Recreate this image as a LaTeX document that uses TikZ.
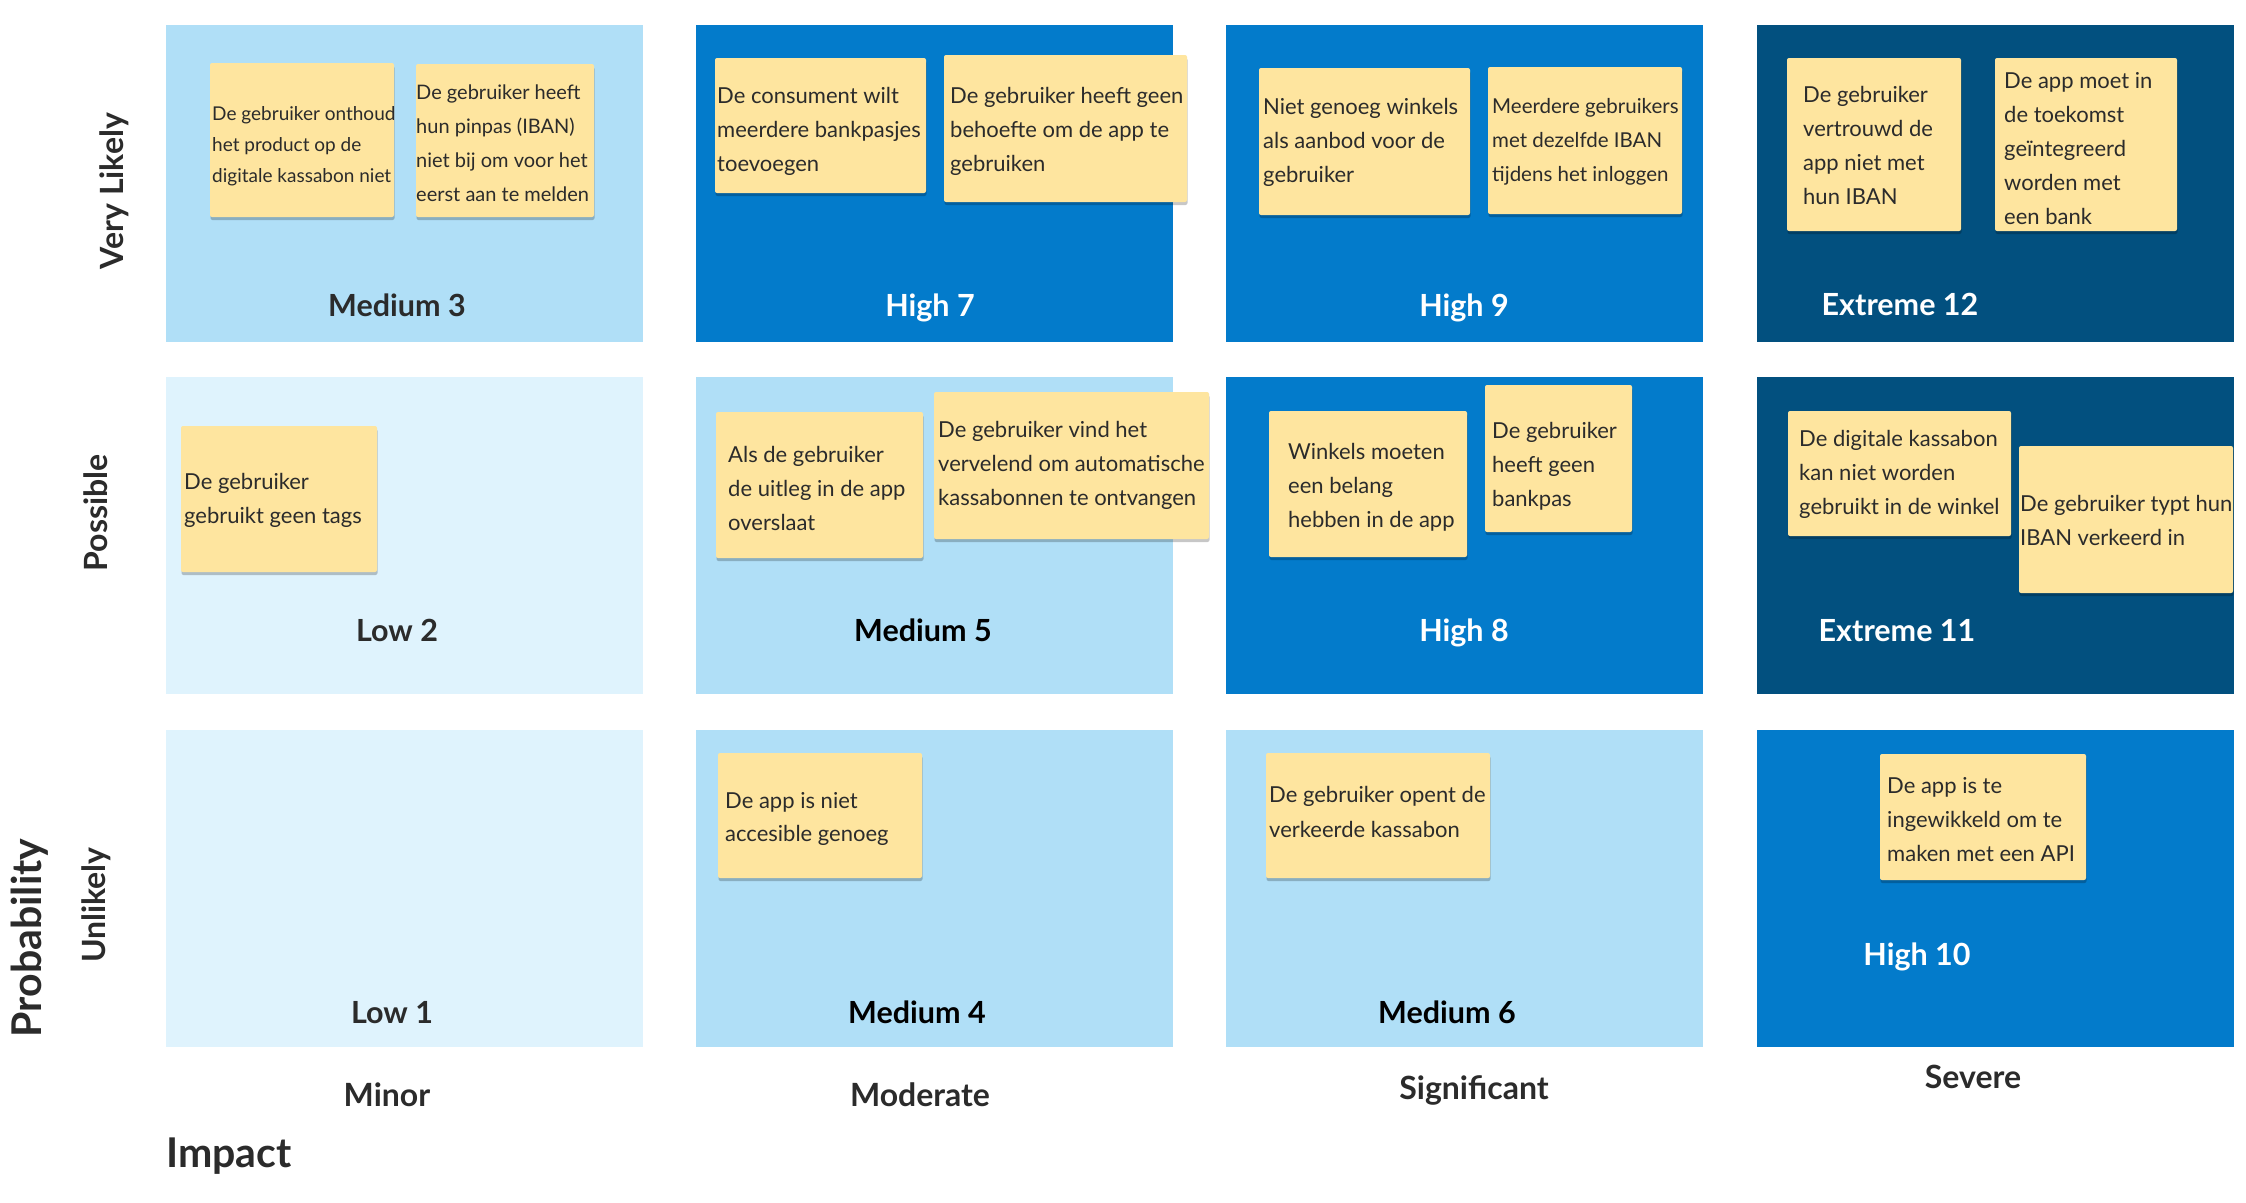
\documentclass[tikz,border=0pt]{standalone}
\usepackage{fontspec}
\setmainfont{Lato}
\usetikzlibrary{shadows}
\definecolor{cLow}{HTML}{DFF3FD}
\definecolor{cMed}{HTML}{B0DFF7}
\definecolor{cHigh}{HTML}{037BCB}
\definecolor{cExt}{HTML}{02507F}
\definecolor{cNote}{HTML}{FEE59F}
\definecolor{cInk}{HTML}{2B2B2B}
\tikzset{
  cell/.style={rectangle, minimum width=477pt, minimum height=317pt, inner sep=0pt, anchor=north west},
  notebox/.style={rectangle, fill=cNote, rounded corners=2pt, inner sep=0pt,
     general shadow={fill=black, opacity=0.22, shadow yshift=-3pt, shadow xshift=0.5pt}},
  notetext/.style={anchor=base west, inner sep=0pt, text=cInk, font=\fontsize{22}{34}\selectfont},
  lbl/.style={anchor=base, inner sep=0pt, font=\bfseries\fontsize{30.5}{34}\selectfont},
  darklbl/.style={lbl, text=cInk},
  lightlbl/.style={lbl, text=white},
  axislbl/.style={anchor=base, inner sep=0pt, text=cInk, font=\bfseries\fontsize{32}{36}\selectfont},
  sidelbl/.style={rotate=90, inner sep=0pt, text=cInk, font=\bfseries\fontsize{32}{36}\selectfont},
}
\newcommand{\stickynote}[9]{%
  \node[notebox, minimum width={#4pt-#2pt}, minimum height={#5pt-#3pt}] (#1) at ({(#2+#4)/2},{(#3+#5)/2}) {};
  \node[notetext, #8] (#1t) at (#6,#7) {\begin{tabular}[t]{@{}l@{}}#9\end{tabular}};
}
\begin{document}
\begin{tikzpicture}[x=1pt,y=-1pt]
\useasboundingbox[fill=white] (0,0) rectangle (2246,1202);
% cells
\node[cell, fill=cMed]  (c31) at (166,25) {};
\node[cell, fill=cHigh] (c32) at (696,25) {};
\node[cell, fill=cHigh] (c33) at (1226,25) {};
\node[cell, fill=cExt]  (c34) at (1757,25) {};
\node[cell, fill=cLow]  (c21) at (166,377) {};
\node[cell, fill=cMed]  (c22) at (696,377) {};
\node[cell, fill=cHigh] (c23) at (1226,377) {};
\node[cell, fill=cExt]  (c24) at (1757,377) {};
\node[cell, fill=cLow]  (c11) at (166,730) {};
\node[cell, fill=cMed]  (c12) at (696,730) {};
\node[cell, fill=cMed]  (c13) at (1226,730) {};
\node[cell, fill=cHigh] (c14) at (1757,730) {};
% cell labels
\node[darklbl]  (l31) at (397,316) {Medium 3};
\node[lightlbl] (l32) at (930,316) {High 7};
\node[lightlbl] (l33) at (1464,316) {High 9};
\node[lightlbl] (l34) at (1900,315) {Extreme 12};
\node[darklbl]  (l21) at (397,641) {Low 2};
\node[lbl, text=black] (l22) at (923,641) {Medium 5};
\node[lightlbl] (l23) at (1464,641) {High 8};
\node[lightlbl] (l24) at (1897,641) {Extreme 11};
\node[darklbl]  (l11) at (392,1023) {Low 1};
\node[lbl, text=black] (l12) at (917,1023) {Medium 4};
\node[lbl, text=black] (l13) at (1447,1023) {Medium 6};
\node[lightlbl] (l14) at (1917,965) {High 10};
% notes
\stickynote{n1}{210}{63}{394}{217}{212}{120}{font=\fontsize{19}{31}\selectfont}{De gebruiker onthoud\\het product op de\\digitale kassabon niet}
\stickynote{n2}{416}{64}{594}{217}{416}{99}{font=\fontsize{20}{34}\selectfont}{De gebruiker heeft\\hun pinpas (IBAN)\\niet bij om voor het\\eerst aan te melden}
\stickynote{n3}{715}{58}{926}{193}{717}{103}{}{De consument wilt\\meerdere bankpasjes\\toevoegen}
\stickynote{n4}{944}{55}{1187}{202}{950}{103}{}{De gebruiker heeft geen\\behoefte om de app te\\gebruiken}
\stickynote{n5}{1259}{68}{1470}{215}{1263}{114}{}{Niet genoeg winkels\\als aanbod voor de\\gebruiker}
\stickynote{n6}{1488}{67}{1682}{214}{1492}{113}{font=\fontsize{20.5}{34}\selectfont}{Meerdere gebruikers\\met dezelfde IBAN\\tijdens het inloggen}
\stickynote{n7}{1787}{58}{1961}{231}{1803}{102}{}{De gebruiker\\vertrouwd de\\app niet met\\hun IBAN}
\stickynote{n8}{1995}{58}{2177}{231}{2004}{88}{}{De app moet in\\de toekomst\\geïntegreerd\\worden met\\een bank}
\stickynote{n9}{181}{426}{377}{572}{184}{489}{}{De gebruiker\\gebruikt geen tags}
\stickynote{n10}{716}{412}{923}{558}{728}{462}{}{Als de gebruiker\\de uitleg in de app\\overslaat}
\stickynote{n11}{934}{392}{1209}{539}{938}{437}{}{De gebruiker vind het\\vervelend om automatische\\kassabonnen te ontvangen}
\stickynote{n12}{1269}{411}{1467}{557}{1288}{459}{}{Winkels moeten\\een belang\\hebben in de app}
\stickynote{n13}{1485}{385}{1632}{532}{1492}{438}{}{De gebruiker\\heeft geen\\bankpas}
\stickynote{n14}{1788}{411}{2011}{536}{1799}{446}{}{De digitale kassabon\\kan niet worden\\gebruikt in de winkel}
\stickynote{n15}{2019}{446}{2233}{593}{2020}{511}{}{De gebruiker typt hun\\IBAN verkeerd in}
\stickynote{n16}{718}{753}{922}{878}{725}{808}{font=\fontsize{22}{33}\selectfont}{De app is niet\\accesible genoeg}
\stickynote{n17}{1266}{753}{1490}{878}{1269}{802}{font=\fontsize{22}{35}\selectfont}{De gebruiker opent de\\verkeerde kassabon}
\stickynote{n18}{1880}{754}{2086}{880}{1887}{793}{}{De app is te\\ingewikkeld om te\\maken met een API}
% axes
\node[axislbl] (xminor) at (387,1106) {Minor};
\node[axislbl] (xmod)   at (920,1106) {Moderate};
\node[axislbl] (xsig)   at (1474,1099) {Significant};
\node[axislbl] (xsev)   at (1973,1088) {Severe};
\node[anchor=base west, inner sep=0pt, text=cInk, font=\bfseries\fontsize{41}{46}\selectfont] (ximpact) at (166,1167) {Impact};
\node[sidelbl] (yvl)  at (114,191) {Very Likely};
\node[sidelbl] (ypos) at (96,513) {Possible};
\node[sidelbl] (yunl) at (96,905) {Unlikely};
\node[rotate=90, inner sep=0pt, text=cInk, font=\bfseries\fontsize{41}{46}\selectfont] (yprob) at (30,938) {Probability};
\end{tikzpicture}
\end{document}
